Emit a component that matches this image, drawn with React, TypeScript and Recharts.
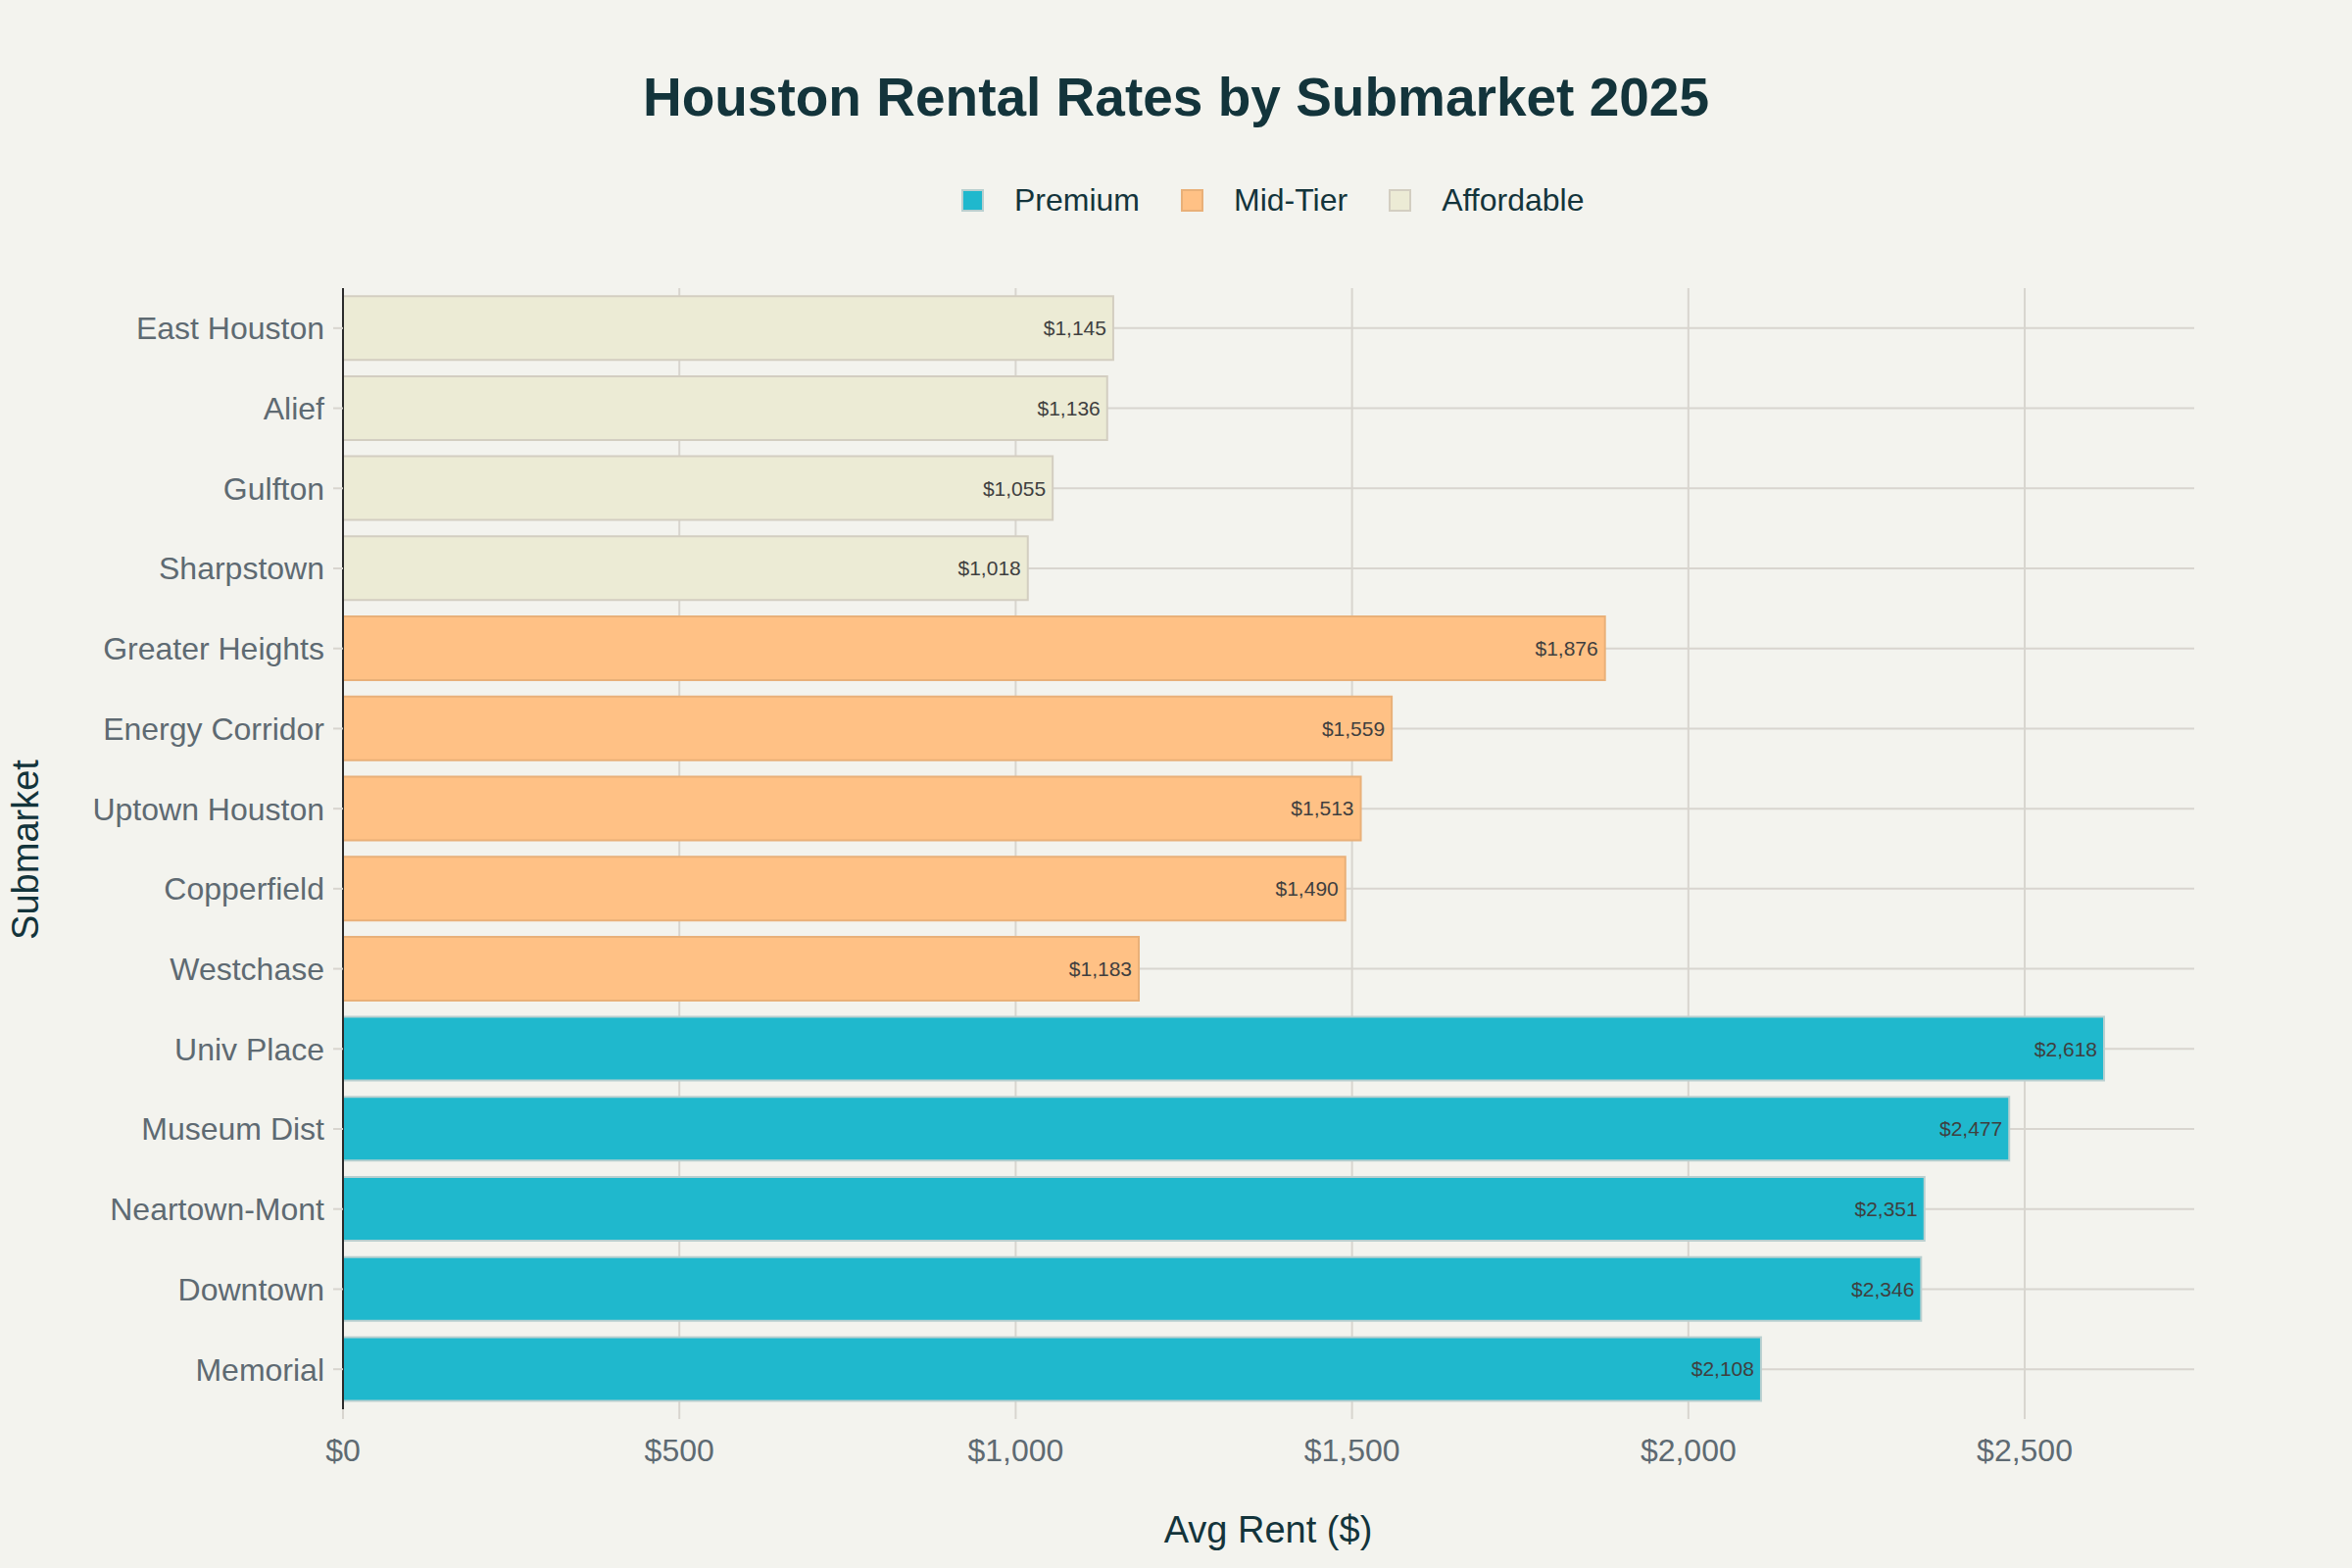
import React from "react";
import { BarChart, Bar, XAxis, YAxis, CartesianGrid, Cell, LabelList } from "recharts";

const submarkets = [
  "East Houston", "Alief", "Gulfton", "Sharpstown",
  "Greater Heights", "Energy Corridor", "Uptown Houston", "Copperfield", "Westchase",
  "Univ Place", "Museum Dist", "Neartown-Mont", "Downtown", "Memorial",
];
const rents = [1145, 1136, 1055, 1018, 1876, 1559, 1513, 1490, 1183, 2618, 2477, 2351, 2346, 2108];
const tiers = [
  "Affordable", "Affordable", "Affordable", "Affordable",
  "Mid-Tier", "Mid-Tier", "Mid-Tier", "Mid-Tier", "Mid-Tier",
  "Premium", "Premium", "Premium", "Premium", "Premium",
];
const tierNames = ["Premium", "Mid-Tier", "Affordable"];
const xTicks = [0, 500, 1000, 1500, 2000, 2500];

const tierFill: Record<string, string> = {
  Premium: "#1FB8CD",
  "Mid-Tier": "#FFC185",
  Affordable: "#ECEBD5",
};
const tierStroke: Record<string, string> = {
  Premium: "#B9CFCF",
  "Mid-Tier": "#E9B078",
  Affordable: "#D3CEC1",
};

const data = submarkets.map((name, i) => ({ name, rent: rents[i], tier: tiers[i] }));

const FONT = "'Liberation Sans', Arial, Helvetica, sans-serif";
const fmt = (v: number) => "$" + v.toLocaleString("en-US");

export default function App() {
  return (
    <div
      style={{
        position: "absolute",
        left: 0,
        top: 0,
        width: 2400,
        height: 1600,
        background: "#F3F3EE",
        fontFamily: FONT,
      }}
    >
      <div
        style={{
          position: "absolute",
          left: 0,
          width: 2400,
          top: 64,
          textAlign: "center",
          fontSize: 55,
          fontWeight: 700,
          color: "#13343B",
          lineHeight: "70px",
        }}
      >
        Houston Rental Rates by Submarket 2025
      </div>
      <div
        style={{
          position: "absolute",
          left: 981,
          top: 184,
          height: 40,
          display: "flex",
          alignItems: "center",
          gap: 42,
        }}
      >
        {tierNames.map((t) => (
          <div key={t} style={{ display: "flex", alignItems: "center", gap: 31 }}>
            <div
              style={{
                width: 19,
                height: 19,
                background: tierFill[t],
                border: "2px solid " + tierStroke[t],
              }}
            />
            <span style={{ fontSize: 32, color: "#13343B" }}>{t}</span>
          </div>
        ))}
      </div>
      <div
        style={{
          position: "absolute",
          left: 26 - 150,
          top: 867 - 25,
          width: 300,
          height: 50,
          lineHeight: "50px",
          textAlign: "center",
          transform: "rotate(-90deg)",
          fontSize: 38,
          color: "#13343B",
        }}
      >
        Submarket
      </div>
      <div
        style={{
          position: "absolute",
          left: 1294 - 300,
          width: 600,
          top: 1561 - 25,
          height: 50,
          lineHeight: "50px",
          textAlign: "center",
          fontSize: 38,
          color: "#13343B",
        }}
      >
        Avg Rent ($)
      </div>
      <div style={{ position: "absolute", left: 0, top: 0 }}>
        <BarChart
          width={2400}
          height={1600}
          data={data}
          layout="vertical"
          margin={{ top: 294, right: 161, bottom: 62, left: 0 }}
          barCategoryGap="10%"
        >
          <CartesianGrid
            stroke="#D8D5CF"
            strokeWidth={2}
            horizontal={true}
            vertical={true}
            syncWithTicks={true}
          />
          <XAxis
            type="number"
            domain={[0, 2752]}
            ticks={xTicks}
            tickFormatter={fmt}
            axisLine={false}
            tickLine={{ stroke: "#D8D5CF", strokeWidth: 2 }}
            tickSize={10}
            tickMargin={20}
            height={100}
            tick={{ fontSize: 32, fill: "#5E6A72", fontFamily: FONT }}
            allowDataOverflow={true}
          />
          <YAxis
            type="category"
            dataKey="name"
            width={350}
            axisLine={{ stroke: "#2B2B2B", strokeWidth: 2 }}
            tickLine={{ stroke: "#D8D5CF", strokeWidth: 2 }}
            tickSize={10}
            tickMargin={9}
            interval={0}
            tick={{ fontSize: 32, fill: "#5E6A72", fontFamily: FONT }}
          />
          <Bar dataKey="rent" isAnimationActive={false}>
            {data.map((d, i) => (
              <Cell key={i} fill={tierFill[d.tier]} stroke={tierStroke[d.tier]} strokeWidth={2} />
            ))}
            <LabelList
              dataKey="rent"
              position="insideRight"
              offset={7}
              formatter={(v: any) => fmt(Number(v))}
              style={{ fontSize: 21, fill: "#3F3F3F", fontFamily: FONT }}
            />
          </Bar>
        </BarChart>
      </div>
    </div>
  );
}
